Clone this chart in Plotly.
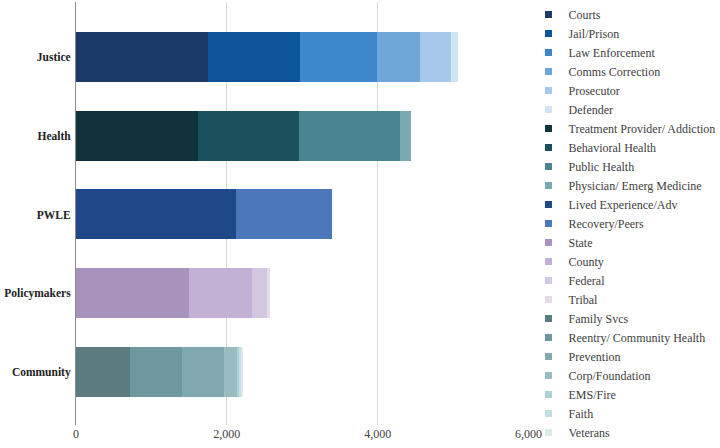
import plotly.graph_objects as go

categories = ["Justice", "Health", "PWLE", "Policymakers", "Community"]

justice_names = ["Courts", "Jail/Prison", "Law Enforcement", "Comms Correction", "Prosecutor", "Defender"]
justice_values = [1750, 1220, 1020, 570, 410, 90]
justice_colors = ["#1b3a68", "#0d5598", "#3d87cb", "#6ea6da", "#a6c8ea", "#d2e3f4"]

health_names = ["Treatment Provider/ Addiction", "Behavioral Health", "Public Health", "Physician/ Emerg Medicine"]
health_values = [1615, 1340, 1340, 145]
health_colors = ["#11323a", "#1a4f5b", "#4a8490", "#79aab2"]

pwle_names = ["Lived Experience/Adv", "Recovery/Peers"]
pwle_values = [2115, 1275]
pwle_colors = ["#1e4887", "#4a78bb"]

policy_names = ["State", "County", "Federal", "Tribal"]
policy_values = [1500, 840, 195, 40]
policy_colors = ["#a893bd", "#c2b1d5", "#d3c6e0", "#e2dbe9"]

community_names = ["Family Svcs", "Reentry/ Community Health", "Prevention", "Corp/Foundation", "EMS/Fire", "Faith", "Veterans"]
community_values = [722, 683, 552, 174, 32, 26, 21]
community_colors = ["#5a7b80", "#6f979f", "#82a9b0", "#98bcc2", "#add0d5", "#c3dde1", "#dde9eb"]

x_ticks = [0, 2000, 4000, 6000]
x_tick_labels = ["0", "2,000", "4,000", "6,000"]

groups = [
    ("Justice", justice_names, justice_values, justice_colors),
    ("Health", health_names, health_values, health_colors),
    ("PWLE", pwle_names, pwle_values, pwle_colors),
    ("Policymakers", policy_names, policy_values, policy_colors),
    ("Community", community_names, community_values, community_colors),
]

SERIF = "Liberation Serif"
fig = go.Figure()

for cat, names, vals, cols in groups:
    for n, v, c in zip(names, vals, cols):
        fig.add_trace(go.Bar(
            y=[cat], x=[v], orientation="h", name=n,
            marker=dict(color=c, line=dict(width=0)),
            showlegend=False,
        ))

# legend entries with small square markers
for cat, names, vals, cols in groups:
    for n, c in zip(names, cols):
        fig.add_trace(go.Scatter(
            x=[None], y=[None], mode="markers", name=n,
            marker=dict(symbol="square", size=7, color=c),
            showlegend=True,
        ))

fig.update_layout(
    width=720, height=448,
    margin=dict(l=76, r=187, t=2, b=23),
    barmode="stack",
    bargap=0.365,
    plot_bgcolor="white",
    paper_bgcolor="white",
    font=dict(family=SERIF, color="#404040"),
    legend=dict(
        xref="container", x=0.734, xanchor="left",
        yref="container", y=1.007, yanchor="top",
        maxheight=1.0,
        traceorder="normal",
        font=dict(family=SERIF, size=12, color="#404040"),
        itemwidth=30, tracegroupgap=0,
        borderwidth=0,
        bgcolor="rgba(0,0,0,0)",
    ),
)

fig.update_xaxes(
    range=[0, 6000],
    tickvals=x_ticks, ticktext=x_tick_labels,
    showgrid=True, gridcolor="#d9d9d9", gridwidth=1,
    zeroline=False, showline=False,
    tickfont=dict(family=SERIF, size=12, color="#404040"),
    ticks="",
    automargin=False,
)
fig.update_yaxes(
    type="category",
    categoryorder="array", categoryarray=categories,
    range=[4.673, -0.698],
    showline=True, linecolor="#8c8c8c", linewidth=1,
    showgrid=False, ticks="",
    tickfont=dict(family=SERIF, size=11.5, color="#222222", weight="bold"),
    ticklabelstandoff=2,
    automargin=False,
)

fig.write_html("out.html")
